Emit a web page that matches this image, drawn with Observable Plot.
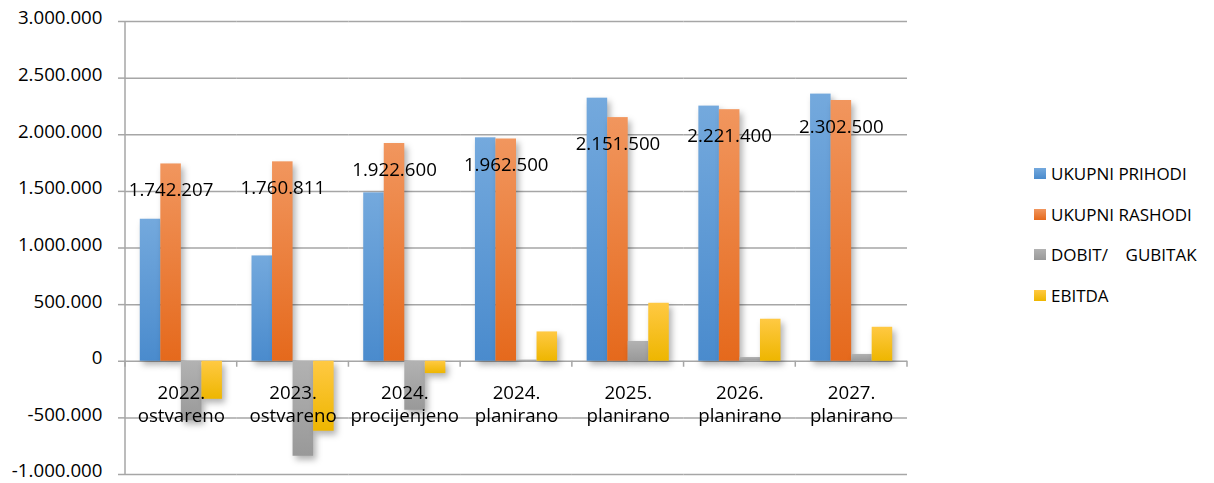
<!DOCTYPE html>
<html><head><meta charset="utf-8">
<script src="https://cdn.jsdelivr.net/npm/d3@7"></script>
<script src="https://cdn.jsdelivr.net/npm/@observablehq/plot@0.6"></script>
<style>
body{margin:0;background:#fff;font-family:"Open Sans",sans-serif;}
#wrap{position:relative;width:1214px;height:483px;overflow:hidden;}
#legend{position:absolute;left:1034px;top:153px;}
.row{display:flex;align-items:center;height:40.7px;font-size:17px;color:#000;white-space:pre;}
.sw{width:12px;height:11px;margin-right:5px;flex:none;}
</style></head><body><div id="wrap"></div>
<script>
// ---- data ----
const categories = ["2022.\nostvareno","2023.\nostvareno","2024.\nprocijenjeno","2024.\nplanirano","2025.\nplanirano","2026.\nplanirano","2027.\nplanirano"];
const series = ["UKUPNI PRIHODI","UKUPNI RASHODI","DOBIT/    GUBITAK","EBITDA"];
const prihodi = [1254000, 930000, 1487000, 1973000, 2323000, 2253000, 2359000];
const rashodi = [1742207, 1760811, 1922600, 1962500, 2151500, 2221400, 2302500];
const dobit   = [-525000, -839000, -433000, 10500, 175000, 33000, 60000];
const ebitda  = [-336000, -618000, -109000, 259000, 512000, 371000, 300000];
const yTicks  = [-1000000,-500000,0,500000,1000000,1500000,2000000,2500000,3000000];

const valuesBySeries = [prihodi, rashodi, dobit, ebitda];
const rows = [];
series.forEach((s, i) => categories.forEach((c, j) => rows.push({cat: c, series: s, value: valuesBySeries[i][j]})));

const gradIds = ["gBlue","gOrange","gGray","gYellow"];
const gradStops = [["#74A9DD","#4A8BCD"],["#F1965E","#E5691C"],["#B2B2B2","#999999"],["#FFC943","#EEB600"]];

const loc = d3.formatLocale({decimal: ",", thousands: ".", grouping: [3], currency: ["",""], minus: "-"});
const fmt = loc.format(",.0f");

const marks = [
  Plot.ruleY(yTicks, {stroke: "#a6a6a6", strokeWidth: 1.5}),
  ...series.map((s, i) => Plot.barY(rows.filter(r => r.series === s), {
    fx: "cat", x: "series", y1: () => 0, y2: "value", fill: `url(#${gradIds[i]})`
  })),
  Plot.text(categories, {fx: d => d, y: () => 0, text: d => d, lineAnchor: "top", dy: 21, lineHeight: 1.23, fontSize: 18.7, fill: "#000"}),
  Plot.text(rows.filter(r => r.series === series[1]), {fx: "cat", x: "series", y: "value", text: d => fmt(d.value), dy: 26.5, fontSize: 18.7, fill: "#000"})
];

const chart = Plot.plot({
  width: 1214, height: 483,
  marginLeft: 125, marginRight: 307, marginTop: 21, marginBottom: 9,
  style: {fontFamily: "Open Sans", fontSize: "18.7px", color: "#000", background: "white"},
  fx: {domain: categories, padding: 0, round: false, axis: null},
  x: {domain: series, paddingInner: 0, paddingOuter: 0.72, round: false, axis: null},
  y: {domain: [-1000000, 3000000], ticks: yTicks, tickFormat: d => fmt(d), tickSize: 7, tickPadding: 16, label: null},
  marks
});

const svg = d3.select(chart);
const defs = svg.insert("defs", ":first-child");
gradIds.forEach((id, i) => {
  const g = defs.append("linearGradient").attr("id", id).attr("x1", 0).attr("y1", 0).attr("x2", 0).attr("y2", 1);
  g.append("stop").attr("offset", "0%").attr("stop-color", gradStops[i][0]);
  g.append("stop").attr("offset", "100%").attr("stop-color", gradStops[i][1]);
});
svg.selectAll('g[aria-label="bar"]').attr("filter", "drop-shadow(3px 4px 3px rgba(0,0,0,0.3))");
svg.selectAll('g[aria-label="y-axis tick"] path, g[aria-label="y-axis tick"]').attr("stroke", "#a6a6a6").attr("stroke-width", 1.5);
svg.selectAll('g[aria-label="y-axis tick label"]').each(function() {
  const t = this.getAttribute("transform") || "";
  this.setAttribute("transform", (t + " translate(0,-3)").trim());
});

// axis line and category boundary ticks derived from scales
const ys = chart.scale("y"), fxs = chart.scale("fx");
const y0 = ys.apply(0), yTop = ys.apply(3000000), yBot = ys.apply(-1000000);
const xLeft = fxs.apply(categories[0]);
const bounds = categories.map(c => fxs.apply(c)).concat([fxs.apply(categories[categories.length-1]) + fxs.bandwidth]);
const ax = svg.append("g").attr("stroke", "#a6a6a6").attr("stroke-width", 1.5);
ax.append("line").attr("x1", xLeft).attr("x2", xLeft).attr("y1", yTop).attr("y2", yBot);
bounds.forEach(b => ax.append("line").attr("x1", b).attr("x2", b).attr("y1", y0).attr("y2", y0 + 6));

const wrap = document.getElementById("wrap");
wrap.appendChild(chart);
const legend = document.createElement("div");
legend.id = "legend";
series.forEach((s, i) => {
  const r = document.createElement("div"); r.className = "row";
  const sw = document.createElement("div"); sw.className = "sw";
  sw.style.background = `linear-gradient(${gradStops[i][0]}, ${gradStops[i][1]})`;
  const t = document.createElement("span"); t.textContent = s;
  r.appendChild(sw); r.appendChild(t); legend.appendChild(r);
});
wrap.appendChild(legend);
</script></body></html>
